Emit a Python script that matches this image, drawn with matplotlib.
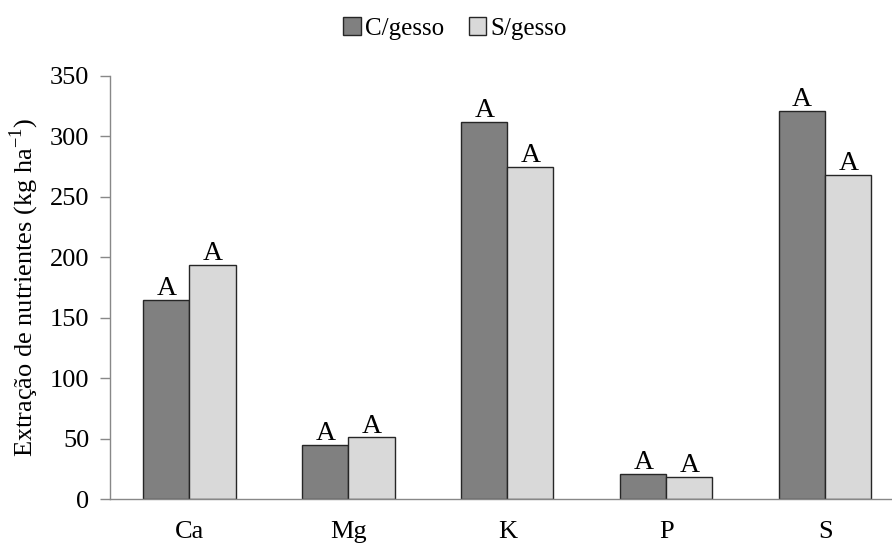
import numpy as np
import matplotlib
matplotlib.use("Agg")
import matplotlib.pyplot as plt

plt.rcParams['font.family'] = ['Liberation Serif', 'DejaVu Serif']
plt.rcParams['mathtext.fontset'] = 'custom'
plt.rcParams['mathtext.rm'] = 'Liberation Serif'

# ================= data =================
nutrientes = ["Ca", "Mg", "K", "P", "S"]
c_gesso = [165, 45, 312, 21, 321]
s_gesso = [194, 51, 275, 18, 268]
letras_c = ["A", "A", "A", "A", "A"]
letras_s = ["A", "A", "A", "A", "A"]

# ================= plot =================
fig = plt.figure(figsize=(8.92, 5.44), dpi=100)
ax = fig.add_axes([110/892, 45/544, 782/892, 423/544])

x = np.arange(len(nutrientes))
w = 0.29

b1 = ax.bar(x - w/2, c_gesso, w, color="#808080", edgecolor="#262626",
            linewidth=1.0, label="C/gesso")
b2 = ax.bar(x + w/2, s_gesso, w, color="#d9d9d9", edgecolor="#262626",
            linewidth=1.0, label="S/gesso")

for xi, v, t in zip(x - w/2, c_gesso, letras_c):
    ax.text(xi, v - 1, t, ha="center", va="bottom", fontsize=20)
for xi, v, t in zip(x + w/2, s_gesso, letras_s):
    ax.text(xi, v - 1, t, ha="center", va="bottom", fontsize=20)

ax.set_xlim(-0.5, 4.42)
ax.set_ylim(0, 350)
ax.set_yticks(np.arange(0, 351, 50))
ax.set_xticks(x)
ax.set_xticklabels(nutrientes)
ax.tick_params(axis="x", length=0, pad=16, labelsize=19)
ax.tick_params(axis="y", length=7, color="#888888", width=1, pad=8, labelsize=19)

for s in ["top", "right"]:
    ax.spines[s].set_visible(False)
for s in ["left", "bottom"]:
    ax.spines[s].set_color("#888888")
    ax.spines[s].set_linewidth(1.0)

ax.set_ylabel("Extração de nutrientes (kg ha$^{\\mathregular{-1}}$)", fontsize=19, labelpad=6)

fig.legend(handles=[b1, b2], loc="upper center", bbox_to_anchor=(0.51, 1.01),
           ncol=2, frameon=False, fontsize=18, handlelength=0.7,
           handleheight=0.7, handletextpad=0.15, columnspacing=1.0)

fig.savefig("out.png", dpi=100)
